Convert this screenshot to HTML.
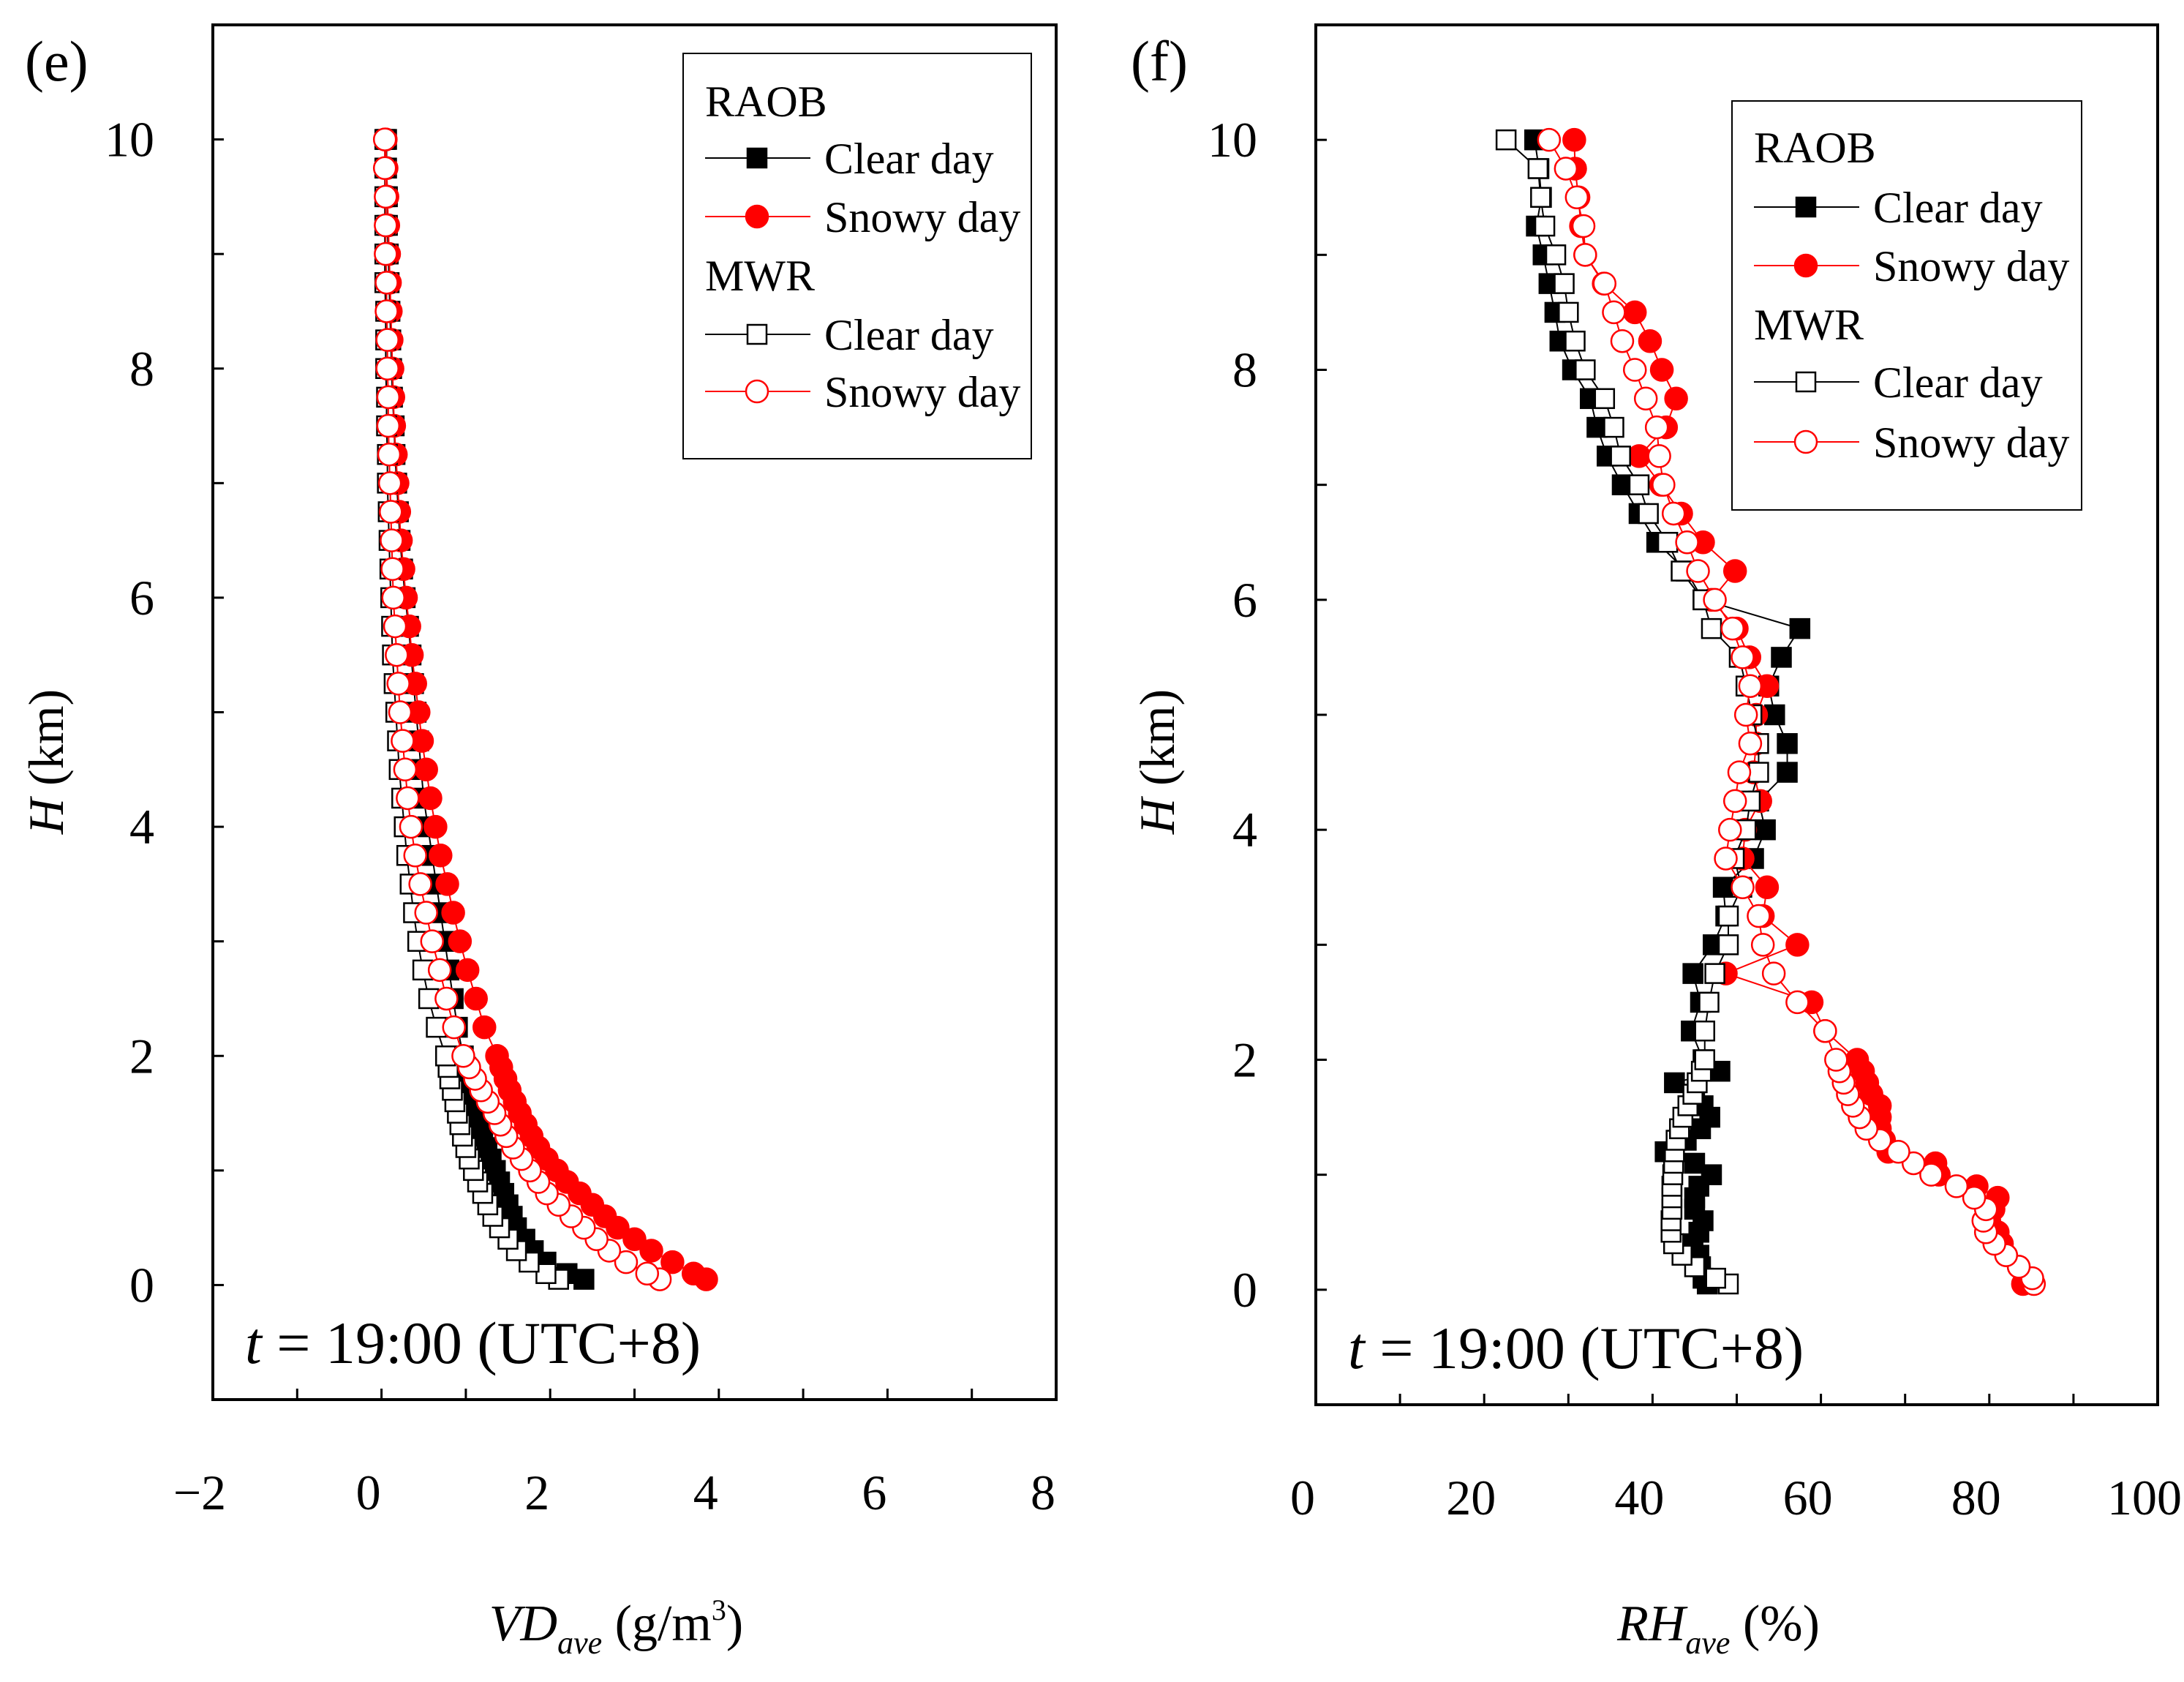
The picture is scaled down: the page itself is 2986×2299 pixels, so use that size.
<!DOCTYPE html>
<html><head><meta charset="utf-8"><style>
html,body{margin:0;padding:0;background:#fff}
svg{display:block;font-family:"Liberation Serif",serif}
</style></head><body>
<svg id="chart" width="2986" height="2299" viewBox="0 0 2986 2299" xmlns="http://www.w3.org/2000/svg"></svg>
<script>
const heights=[0.05,0.1,0.2,0.3,0.4,0.5,0.6,0.7,0.8,0.9,1.0,1.1,1.2,1.3,1.4,1.5,1.6,1.7,1.8,1.9,2.0,2.25,2.5,2.75,3,3.25,3.5,3.75,4,4.25,4.5,4.75,5,5.25,5.5,5.75,6,6.25,6.5,6.75,7,7.25,7.5,7.75,8,8.25,8.5,8.75,9,9.25,9.5,9.75,10];
const vdRaobClear=[2.4,2.2,1.95,1.8,1.7,1.6,1.55,1.5,1.45,1.4,1.35,1.3,1.25,1.2,1.15,1.12,1.08,1.05,1.02,1.0,0.97,0.9,0.85,0.8,0.75,0.7,0.65,0.6,0.55,0.5,0.47,0.44,0.41,0.38,0.35,0.32,0.28,0.25,0.22,0.2,0.18,0.16,0.15,0.13,0.12,0.11,0.1,0.09,0.08,0.07,0.07,0.06,0.06];
const vdRaobSnowy=[3.85,3.7,3.45,3.2,3.0,2.8,2.65,2.5,2.35,2.2,2.08,1.96,1.86,1.78,1.71,1.64,1.58,1.52,1.47,1.42,1.37,1.22,1.12,1.02,0.93,0.85,0.78,0.7,0.64,0.58,0.53,0.48,0.44,0.4,0.36,0.33,0.29,0.26,0.23,0.21,0.19,0.17,0.15,0.14,0.13,0.12,0.11,0.1,0.09,0.08,0.07,0.06,0.05];
const vdMwrClear=[2.1,1.95,1.75,1.6,1.5,1.4,1.32,1.26,1.2,1.14,1.09,1.04,1.0,0.96,0.93,0.9,0.87,0.84,0.81,0.79,0.76,0.65,0.56,0.49,0.43,0.38,0.34,0.3,0.27,0.24,0.21,0.19,0.17,0.15,0.13,0.12,0.11,0.1,0.09,0.08,0.07,0.07,0.06,0.06,0.05,0.05,0.05,0.04,0.04,0.04,0.04,0.04,0.04];
const vdMwrSnowy=[3.3,3.15,2.9,2.7,2.55,2.4,2.25,2.1,1.96,1.86,1.76,1.66,1.56,1.48,1.41,1.34,1.26,1.18,1.11,1.04,0.97,0.86,0.77,0.69,0.6,0.53,0.46,0.4,0.35,0.31,0.28,0.25,0.22,0.2,0.18,0.16,0.14,0.13,0.12,0.11,0.1,0.09,0.08,0.08,0.07,0.07,0.06,0.06,0.05,0.05,0.05,0.04,0.04];
const rhRaobClear=[46.5,46,45.7,45.5,44.8,45.5,46,45,45,45.5,47,45,41.5,44,45.7,46.8,46,45,42.6,48,46,44.6,45.7,44.8,47.2,48.7,48.4,52,53.4,52.6,56,56,54.5,53.8,55.3,57.5,46,44,40.5,38.4,36.4,34.6,33.4,32.6,30.5,29,28.4,27.7,27,26.2,26.8,26.5,26];
const rhRaobSnowy=[84,84.3,83.5,82,81.5,81,80,80.5,81,78.5,74,73.6,68,67.5,67,67,67,66,65.5,65,64.3,60.5,58.9,48.7,57.2,53.1,53.6,50.7,51,52.8,52,52.3,52.3,53.6,51.5,50,47,49.8,46,43.4,41,38.4,41.6,42.8,41.1,39.7,37.9,34.2,32,31.5,31.2,30.8,30.7];
const rhMwrClear=[49,47.5,45,43.5,42.5,42.2,42.2,42.3,42.3,42.3,42.4,42.5,42.6,42.8,43.2,43.6,44.2,44.8,45.3,45.8,46.2,46.2,46.7,47.4,49,49,50.6,49.7,51.1,51.6,52.6,52.6,51.8,51.1,50.3,47,46,43.4,41.8,39.5,38.4,36.2,35.4,34.3,32,30.8,30,29.5,28.5,27.2,26.7,26.4,22.6];
const rhMwrSnowy=[85.3,85.1,83.5,82,80.6,79.6,79.3,79.6,78.2,76.1,73.1,71,69.2,67,65.4,64.6,63.8,63.2,62.7,62.2,61.8,60.5,57.2,54.4,53.1,52.6,50.7,48.7,49.2,49.8,50.3,51.6,51.1,51.6,50.7,49.5,47.4,45.4,44.1,42.5,41.3,40.8,40.5,39.2,37.9,36.4,35.4,34.3,32,31.8,31,29.7,27.7];
const vdTicks=[-2,0,2,4,6,8];
const rhTicks=[0,20,40,60,80,100];
const hTicks=[0,2,4,6,8,10];

const NS="http://www.w3.org/2000/svg";
const svg=document.getElementById('chart');
function mk(tag,attrs,parent){const e=document.createElementNS(NS,tag);for(const k in attrs)e.setAttribute(k,attrs[k]);(parent||svg).appendChild(e);return e;}

function panel(cfg){
  const g=mk('g',{});
  
  
  const {L,R,T,B,xmin,xmax,ymin,ymax}=cfg;
  const sx=v=>L+(v-xmin)/(xmax-xmin)*(R-L);
  const sy=v=>B-(v-ymin)/(ymax-ymin)*(B-T);
  const fr=mk('rect',{x:L,y:T,width:R-L,height:B-T,fill:'none',stroke:'#000','stroke-width':4},g);
  
  
  for(let v=xmin+cfg.xminor;v<xmax-1e-9;v+=cfg.xminor){const t=mk('line',{x1:sx(v),x2:sx(v),y1:B,y2:B-15,stroke:'#000','stroke-width':3},g);}
  for(let v=ymin+1;v<ymax;v+=1){const t=mk('line',{x1:L,x2:L+15,y1:sy(v),y2:sy(v),stroke:'#000','stroke-width':3},g);}
  cfg.xticks.forEach(v=>{const t=mk('text',{x:sx(v)-18,y:B+150,'text-anchor':'middle','font-size':68,fill:'#000'},g);t.textContent=(v<0?'\u2212'+(-v):v);});
  hTicks.forEach(v=>{const t=mk('text',{x:L-80,y:sy(v)+23,'text-anchor':'end','font-size':68,fill:'#000'},g);t.textContent=v;});
  const yt=mk('text',{x:0,y:0,'font-size':68,transform:`translate(${cfg.ytx},1041) rotate(-90)`,'text-anchor':'middle'},g);
  yt.innerHTML='<tspan font-style="italic">H</tspan> (km)';
  
  const xt=mk('text',{x:(L+R)/2-25,y:2242,'font-size':70,'text-anchor':'middle'},g);
  xt.innerHTML=cfg.xtitle;
  
  const pl=mk('text',{x:cfg.plx,y:110,'font-size':78},g);pl.textContent=cfg.plabel;
  
  const ts=mk('text',{x:L+44,y:B-50,'font-size':82},g);
  ts.innerHTML='<tspan font-style="italic">t</tspan> = 19:00 (UTC+8)';
  
  const series=[
    {vals:cfg.rc,color:'#000',shape:'sq',fill:true,name:'raob-clear-series'},
    {vals:cfg.rs,color:'#f00',shape:'ci',fill:true,name:'raob-snowy-series'},
    {vals:cfg.mc,color:'#000',shape:'sq',fill:false,name:'mwr-clear-series'},
    {vals:cfg.ms,color:'#f00',shape:'ci',fill:false,name:'mwr-snowy-series'}];
  function marker(parent,x,y,s){
    let m;
    if(s.shape==='sq') m=mk('rect',{x:x-13,y:y-13,width:26,height:26,fill:s.fill?s.color:'#fff',stroke:s.color,'stroke-width':2.5},parent);
    else m=mk('circle',{cx:x,cy:y,r:15,fill:s.fill?s.color:'#fff',stroke:s.color,'stroke-width':2.5},parent);
    return m;
  }
  series.forEach(s=>{
    const sg=mk('g',{},g);
    
    const n=Math.min(s.vals.length,heights.length);
    let d='';for(let i=0;i<n;i++)d+=(i?'L':'M')+sx(s.vals[i])+' '+sy(heights[i]);
    const p=mk('path',{d:d,fill:'none',stroke:s.color,'stroke-width':2},sg);
    
    for(let i=0;i<n;i++){const m=marker(sg,sx(s.vals[i]),sy(heights[i]),s);}
  });
  const lg=mk('g',{},g);
  
  const lb=cfg.leg;
  mk('rect',{x:lb.x,y:lb.y,width:lb.w,height:lb.h,fill:'#fff',stroke:'#000','stroke-width':2},lg);
  const rows=[{t:'RAOB'},{t:'Clear day',s:series[0]},{t:'Snowy day',s:series[1]},{t:'MWR'},{t:'Clear day',s:series[2]},{t:'Snowy day',s:series[3]}];
  rows.forEach((r,i)=>{
    const y=lb.rows[i];
    if(!r.s){const t=mk('text',{x:lb.x+30,y:y+21,'font-size':60},lg);t.textContent=r.t;return;}
    const e=mk('g',{},lg);
    
    mk('line',{x1:lb.x+30,x2:lb.x+174,y1:y,y2:y,stroke:r.s.color,'stroke-width':2},e);
    marker(e,lb.x+101,y,r.s);
    const t=mk('text',{x:lb.x+193,y:y+21,'font-size':60},e);t.textContent=r.t;
  });
}
panel({name:'panel-e-vapor-density',L:291,R:1444,T:34,B:1913,xmin:-2,xmax:8,ymin:-1,ymax:11,xminor:1,xticks:vdTicks,
  rc:vdRaobClear,rs:vdRaobSnowy,mc:vdMwrClear,ms:vdMwrSnowy,ytx:86,plx:34,plabel:'(e)',
  xtitle:'<tspan font-style="italic">VD</tspan><tspan font-style="italic" font-size="44" dy="18">ave</tspan><tspan dy="-18"> (g/m</tspan><tspan font-size="40" dy="-28">3</tspan><tspan dy="28">)</tspan>',
  leg:{x:934,y:73,w:476,h:554,rows:[138,216,296,376,457,535]}});
panel({name:'panel-f-relative-humidity',L:1799,R:2950,T:34,B:1920,xmin:0,xmax:100,ymin:-1,ymax:11,xminor:10,xticks:rhTicks,
  rc:rhRaobClear,rs:rhRaobSnowy,mc:rhMwrClear,ms:rhMwrSnowy,ytx:1605,plx:1546,plabel:'(f)',
  xtitle:'<tspan font-style="italic">RH</tspan><tspan font-style="italic" font-size="44" dy="18">ave</tspan><tspan dy="-18"> (%)</tspan>',
  leg:{x:2368,y:138,w:478,h:559,rows:[201,283,363,443,522,604]}});
</script>
</body></html>
